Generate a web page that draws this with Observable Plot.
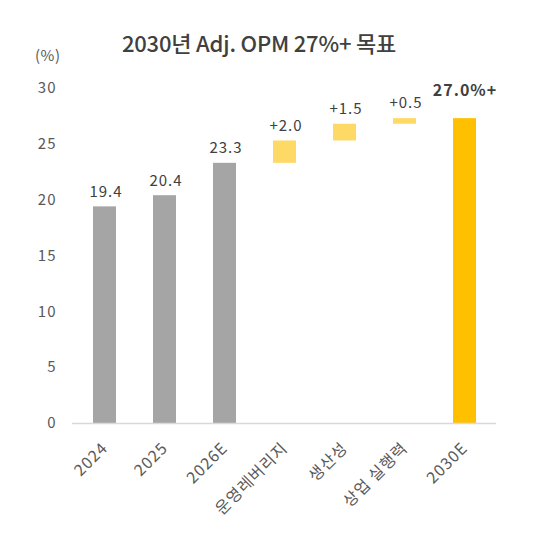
<!DOCTYPE html>
<html>
<head>
<meta charset="utf-8">
<script src="https://cdn.jsdelivr.net/npm/d3@7"></script>
<script src="https://cdn.jsdelivr.net/npm/@observablehq/plot@0.6"></script>
<style>
  html, body { margin: 0; padding: 0; background: #fff; }
  body { width: 544px; height: 538px; position: relative; overflow: hidden; font-family: "Noto Sans CJK KR", "Noto Sans", sans-serif; }
  #title { position: absolute; left: 0; width: 518px; top: 31px; text-align: center; font-size: 22px; line-height: 22px; font-weight: 500; color: #404040; letter-spacing: -0.2px; }
  #unit { position: absolute; left: 35px; top: 47px; font-size: 15px; line-height: 15px; color: #595959; letter-spacing: 0.5px; }
  #chart { position: absolute; left: 0; top: 70px; }
  #chart svg text { letter-spacing: 1px; }
</style>
</head>
<body>
<div id="title">2030년 Adj. OPM 27%+ 목표</div>
<div id="unit">(%)</div>
<div id="chart"></div>
<script>
const categories = ["2024", "2025", "2026E", "운영레버리지", "생산성", "상업 실행력", "2030E"];
const actualValues = [19.4, 20.4, 23.3];
const driverValues = [2.0, 1.5, 0.5];
const targetValue = 27.3;
const valueLabels = ["19.4", "20.4", "23.3", "+2.0", "+1.5", "+0.5", "27.0%+"];
const yTicks = [0, 5, 10, 15, 20, 25, 30];

const colors = { actual: "#a5a5a5", driver: "#ffd966", target: "#ffc000" };

const rows = [];
actualValues.forEach((v, i) => rows.push({ cat: categories[i], y1: 0, y2: v, kind: "actual", label: valueLabels[i] }));
let cum = actualValues[actualValues.length - 1];
driverValues.forEach((d, j) => {
  const i = actualValues.length + j;
  rows.push({ cat: categories[i], y1: cum, y2: cum + d, kind: "driver", label: valueLabels[i] });
  cum += d;
});
rows.push({ cat: categories[categories.length - 1], y1: 0, y2: targetValue, kind: "target", label: valueLabels[valueLabels.length - 1] });

const plot = Plot.plot({
  width: 544,
  height: 468,
  marginTop: 18,
  marginBottom: 115,
  marginLeft: 72,
  marginRight: 48,
  style: { fontFamily: "'Noto Sans CJK KR', 'Noto Sans', sans-serif", fontSize: "15px", color: "#595959", background: "transparent" },
  x: { domain: categories, paddingInner: 0.62, paddingOuter: 0.31, axis: null },
  y: { domain: [0, 30], axis: null },
  marks: [
    Plot.axisY({ ticks: yTicks, tickSize: 0, tickPadding: 16, label: null, fontSize: 15 }),
    Plot.axisX({ tickRotate: -45, tickSize: 0, tickPadding: 22, label: null, fontSize: 16 }),
    Plot.barY(rows, { x: "cat", y1: "y1", y2: "y2", fill: d => colors[d.kind] }),
    Plot.ruleY([0], { stroke: "#d9d9d9", strokeWidth: 1.5 }),
    Plot.text(rows.filter(d => d.kind !== "target"), { x: "cat", y: "y2", text: "label", dy: -15, dx: 1, fill: "#404040", fontSize: 15 }),
    Plot.text(rows.filter(d => d.kind === "target"), { x: "cat", y: "y2", text: "label", dy: -28, fill: "#404040", fontSize: 16, fontWeight: "bold" })
  ]
});
document.getElementById("chart").appendChild(plot);
</script>
</body>
</html>
